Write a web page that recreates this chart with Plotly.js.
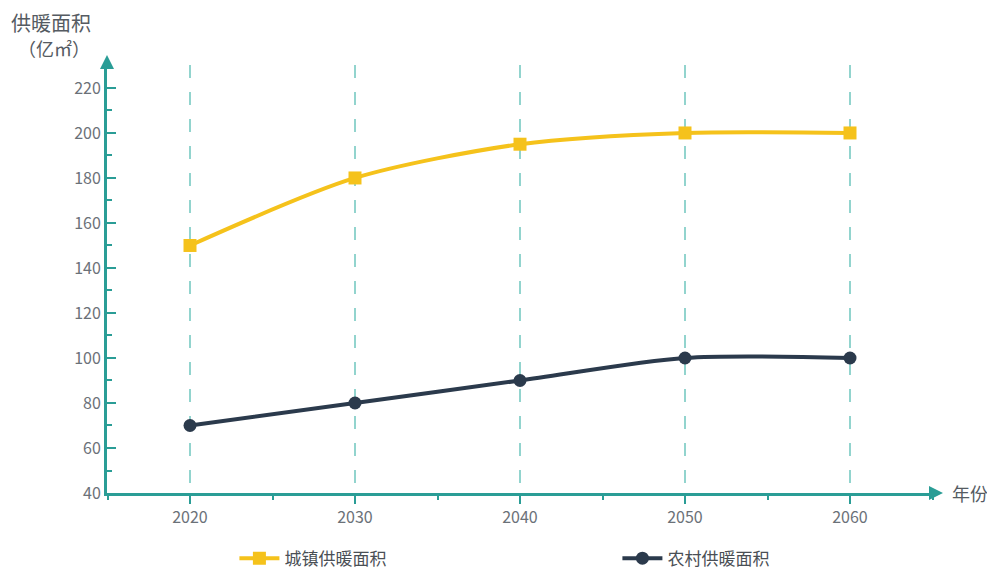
<!DOCTYPE html>
<html><head><meta charset="utf-8">
<script src="https://cdn.plot.ly/plotly-3.0.1.min.js"></script>
<style>html,body{margin:0;padding:0;background:#fff;}#chart{width:987px;height:570px;}</style>
</head><body><div id="chart"></div>
<script>
const years = [2020, 2030, 2040, 2050, 2060];
const urbanArea = [150, 180, 195, 200, 200];
const ruralArea = [70, 80, 90, 100, 100];
const seriesNames = ['城镇供暖面积', '农村供暖面积'];
const yTicks = [40, 60, 80, 100, 120, 140, 160, 180, 200, 220];

const teal = '#2a9d96';
const font = 'Noto Sans CJK SC, Noto Sans, sans-serif';

const traces = [
  {x: years, y: urbanArea, name: seriesNames[0], type: 'scatter', mode: 'lines+markers',
   line: {color: '#f5c21b', width: 4, shape: 'spline', smoothing: 0.8},
   marker: {symbol: 'square', size: 13, color: '#f5c21b'}},
  {x: years, y: ruralArea, name: seriesNames[1], type: 'scatter', mode: 'lines+markers',
   line: {color: '#2b3a4c', width: 4, shape: 'spline', smoothing: 0.8},
   marker: {symbol: 'circle', size: 13, color: '#2b3a4c'}}
];

const layout = {
  width: 987, height: 570,
  margin: {l: 107, r: 52, t: 65, b: 77, autoexpand: false},
  paper_bgcolor: '#fff', plot_bgcolor: '#fff',
  font: {family: font, color: '#6b7178', size: 16},
  showlegend: true,
  legend: {orientation: 'h', xref: 'container', yref: 'container', x: 0.2375, xanchor: 'left', y: 0.02, yanchor: 'middle',
    entrywidth: 328, entrywidthmode: 'pixels', font: {size: 17, color: '#4a4f55'}, itemwidth: 40},
  xaxis: {range: [2014.9697, 2065.1515], tickvals: years, ticktext: years.map(String),
    showgrid: true, gridcolor: '#92d4ce', griddash: '13px,14px', gridwidth: 2,
    showline: true, linecolor: teal, linewidth: 3,
    ticks: 'outside', ticklen: 8, tickwidth: 2, tickcolor: teal,
    minor: {dtick: 5, tick0: 2015, ticks: 'outside', ticklen: 4, tickwidth: 2, tickcolor: teal, showgrid: false},
    zeroline: false, tickfont: {size: 16, color: '#6b7178'}, fixedrange: true},
  yaxis: {range: [40, 230.2], tickvals: yTicks,
    showgrid: false, showline: true, linecolor: teal, linewidth: 3,
    ticks: 'inside', ticklen: 9, tickwidth: 2, tickcolor: teal,
    minor: {dtick: 10, tick0: 40, ticks: 'inside', ticklen: 5, tickwidth: 2, tickcolor: teal},
    zeroline: false, tickfont: {size: 16, color: '#6b7178'}, fixedrange: true},
  annotations: [
    {text: '供暖面积', xref: 'paper', yref: 'paper', x: -0.118, y: 1.100, xanchor: 'left', yanchor: 'middle',
     showarrow: false, font: {size: 20, color: '#555b62'}},
    {text: '（亿㎡）', xref: 'paper', yref: 'paper', x: -0.11, y: 1.040, xanchor: 'left', yanchor: 'middle',
     showarrow: false, font: {size: 18, color: '#555b62'}},
    {text: '年份', xref: 'paper', yref: 'paper', x: 1.018, y: 0, xanchor: 'left', yanchor: 'middle',
     showarrow: false, font: {size: 18, color: '#555b62'}}
  ]
};
layout.shapes = [
  {type: 'path', xref: 'paper', yref: 'paper', xsizemode: 'pixel', ysizemode: 'pixel', xanchor: 0, yanchor: 1,
   path: 'M-7,-4 L7,-4 L0,10 Z', fillcolor: teal, line: {width: 0}},
  {type: 'path', xref: 'paper', yref: 'paper', xsizemode: 'pixel', ysizemode: 'pixel', xanchor: 1, yanchor: 0,
   path: 'M-6,-7 L-6,7 L8,0 Z', fillcolor: teal, line: {width: 0}}
];
Plotly.newPlot('chart', traces, layout, {displayModeBar: false, staticPlot: true});
</script></body></html>
